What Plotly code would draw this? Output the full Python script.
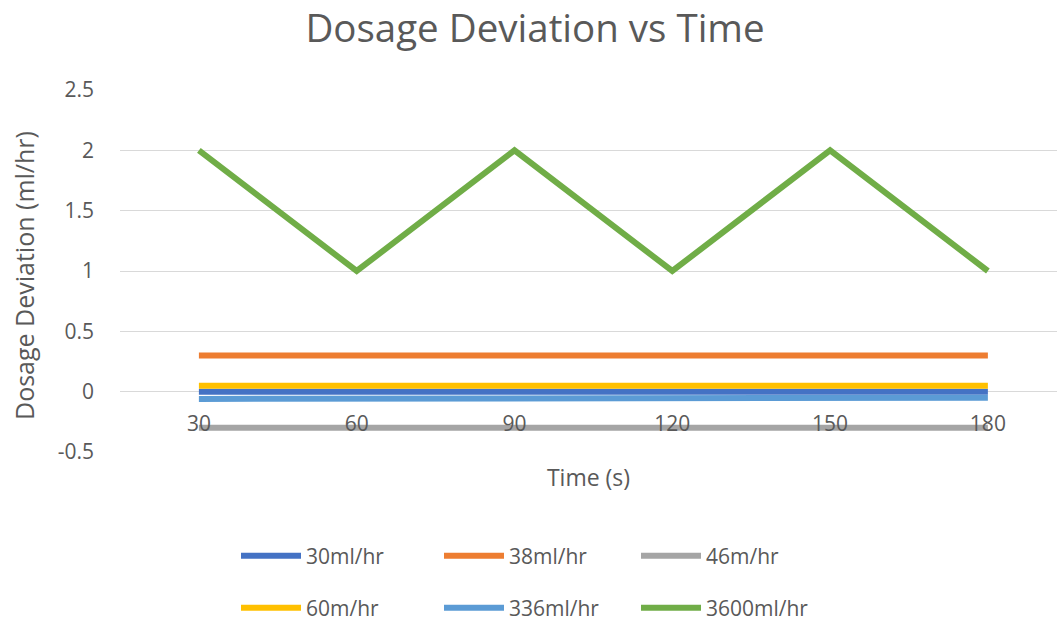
import plotly.graph_objects as go

# Sample times (s) shown as categories on the x axis
times = ["30", "60", "90", "120", "150", "180"]

# Dosage deviation (ml/hr) per infusion rate
dev_30 = [0.0, 0.0, 0.0, 0.0, 0.0, 0.0]
dev_38 = [0.3, 0.3, 0.3, 0.3, 0.3, 0.3]
dev_46 = [-0.3, -0.3, -0.3, -0.3, -0.3, -0.3]
dev_60 = [0.05, 0.05, 0.05, 0.05, 0.05, 0.05]
dev_336 = [-0.06, -0.06, -0.06, -0.06, -0.05, -0.05]
dev_3600 = [2, 1, 2, 1, 2, 1]

# y-axis tick values and their labels
y_ticks = [-0.5, 0, 0.5, 1, 1.5, 2, 2.5]
y_labels = ["-0.5", "0", "0.5", "1", "1.5", "2", "2.5"]

series = [
    ("30ml/hr", dev_30, "#4472C4"),
    ("38ml/hr", dev_38, "#ED7D31"),
    ("46m/hr", dev_46, "#A5A5A5"),
    ("60m/hr", dev_60, "#FFC000"),
    ("336ml/hr", dev_336, "#5B9BD5"),
    ("3600ml/hr", dev_3600, "#70AD47"),
]

FONT = "'Open Sans', Lato, sans-serif"
TEXT = "#595959"
W, H = 1057, 623
L, R, T, B = 120, 0, 90, 171
PW, PH = W - L - R, H - T - B

# one single-entry legend per series, laid out in a 3 x 2 grid
legend_x = [236, 439, 636]
legend_y = [556, 608]
legend_names = ["legend", "legend2", "legend3", "legend4", "legend5", "legend6"]

fig = go.Figure()
legend_layout = {}
for i, (name, vals, color) in enumerate(series):
    lg = legend_names[i]
    fig.add_trace(go.Scatter(
        x=times, y=vals, name=name, mode="lines",
        line=dict(color=color, width=6),
        legend=lg,
    ))
    legend_layout[lg] = dict(
        xref="container", yref="container",
        x=legend_x[i % 3] / W, y=1 - legend_y[i // 3] / H,
        xanchor="left", yanchor="middle",
        font=dict(family=FONT, size=21, color=TEXT),
        bgcolor="rgba(0,0,0,0)", itemwidth=60,
    )

# vertical y-axis title to the left of the tick labels
fig.add_annotation(
    text="Dosage Deviation (ml/hr)", textangle=-90,
    xref="paper", yref="paper",
    x=(24 - L) / PW, y=1 - (276 - T) / PH,
    xanchor="center", yanchor="middle", showarrow=False,
    font=dict(family=FONT, size=25, color=TEXT),
)

fig.update_layout(
    width=W, height=H,
    paper_bgcolor="white", plot_bgcolor="white",
    margin=dict(l=L, r=R, t=T, b=B, autoexpand=False),
    title=dict(text="Dosage Deviation vs Time", xref="container",
               x=535 / W, xanchor="center",
               y=1 - 29 / H, yanchor="middle",
               font=dict(family=FONT, size=38.5, color=TEXT)),
    font=dict(family=FONT, color=TEXT),
    showlegend=True,
    xaxis=dict(
        type="category", range=[-0.5, 5.438],
        anchor="free", position=1 / 6, automargin=False,
        showgrid=False, showline=False, zeroline=False,
        ticks="", ticklabelstandoff=17,
        tickfont=dict(family=FONT, size=21, color=TEXT),
        title=dict(text="Time (s)", standoff=34,
                   font=dict(family=FONT, size=23, color=TEXT)),
    ),
    yaxis=dict(
        range=[-0.5, 2.5], tickvals=y_ticks, ticktext=y_labels,
        automargin=False,
        showgrid=True, gridcolor="#D9D9D9", gridwidth=1,
        zeroline=True, zerolinecolor="#D9D9D9", zerolinewidth=1,
        showline=False, ticks="", ticklabelstandoff=25,
        tickfont=dict(family=FONT, size=21, color=TEXT),
    ),
    **legend_layout,
)

fig.write_html("out.html")
